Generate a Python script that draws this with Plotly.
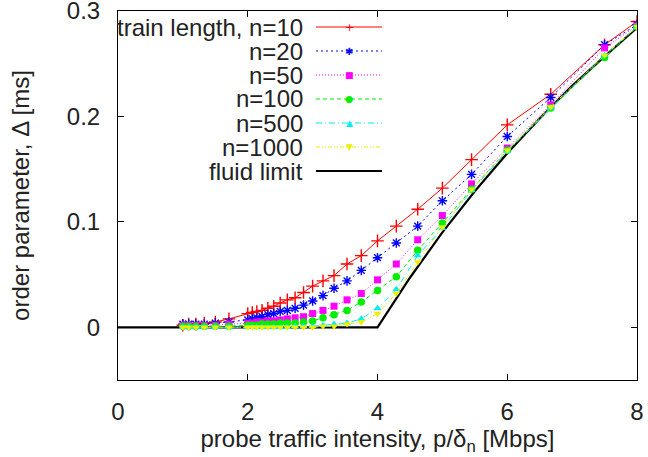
import plotly.graph_objects as go

# ---------------- data ----------------
x_vals = [1.0, 1.09, 1.2, 1.33, 1.5, 1.71, 2.0, 2.07, 2.14, 2.22, 2.31, 2.4, 2.5,
          2.61, 2.73, 2.86, 3.0, 3.16, 3.33, 3.53, 3.75, 4.0, 4.29, 4.62, 5.0,
          5.45, 6.0, 6.67, 7.5, 8.0]

n10 = [0.002, 0.003, 0.003, 0.004, 0.005, 0.008, 0.013, 0.014, 0.015, 0.016, 0.018,
       0.020, 0.023, 0.026, 0.028, 0.033, 0.039, 0.044, 0.049, 0.060, 0.068, 0.082,
       0.096, 0.112, 0.132, 0.159, 0.192, 0.221, 0.268, 0.290]
n20 = [0.003, 0.003, 0.003, 0.003, 0.004, 0.005, 0.007, 0.008, 0.009, 0.010, 0.012,
       0.013, 0.015, 0.016, 0.018, 0.021, 0.025, 0.030, 0.037, 0.044, 0.054, 0.066,
       0.080, 0.096, 0.120, 0.145, 0.181, 0.218, 0.268, 0.287]
n50 = [0.002, 0.002, 0.002, 0.002, 0.002, 0.003, 0.004, 0.004, 0.005, 0.005, 0.006,
       0.006, 0.007, 0.008, 0.009, 0.010, 0.013, 0.016, 0.020, 0.026, 0.032, 0.045,
       0.060, 0.083, 0.106, 0.136, 0.170, 0.211, 0.265, 0.286]
n100 = [0.001, 0.001, 0.001, 0.001, 0.001, 0.001, 0.002, 0.002, 0.002, 0.003, 0.003,
        0.003, 0.004, 0.004, 0.004, 0.005, 0.006, 0.009, 0.012, 0.016, 0.024, 0.035,
        0.048, 0.073, 0.099, 0.131, 0.168, 0.208, 0.256, 0.285]
n500 = [0.0, 0.0, 0.0, 0.0, 0.0, 0.0, 0.0, 0.0, 0.0, 0.0, 0.0,
        0.0, 0.0, 0.0, 0.001, 0.001, 0.001, 0.002, 0.003, 0.004, 0.008, 0.018,
        0.036, 0.068, 0.094, 0.130, 0.167, 0.208, 0.258, 0.285]
n1000 = [0.0, 0.0, 0.0, 0.0, 0.0, 0.0, 0.0, 0.0, 0.0, 0.0, 0.0,
         0.0, 0.0, 0.0, 0.0, 0.0, 0.0, 0.001, 0.001, 0.003, 0.005, 0.013,
         0.032, 0.062, 0.095, 0.131, 0.168, 0.209, 0.258, 0.285]

fluid_x = [0, 4.0, 4.5, 5.0, 5.5, 6.0, 6.5, 7.0, 7.5, 8.0]
fluid_y = [0, 0.0, 0.047, 0.090, 0.129, 0.165, 0.198, 0.229, 0.257, 0.284]

labels = ["train length, n=10", "n=20", "n=50", "n=100", "n=500", "n=1000", "fluid limit"]
x_ticks = [0, 2, 4, 6, 8]
y_ticks = [0, 0.1, 0.2, 0.3]

# ---------------- styles ----------------
FONT = "Liberation Sans, Arial, Helvetica, sans-serif"
FS = 24
TXT = "#222222"
series = [
    (n10, "#ff0000", "solid", "cross-thin-open", 9, "+"),
    (n20, "#0000ff", "2px,3px", "asterisk-open", 8, "✱"),
    (n50, "#ff00ff", "1px,2px", "square", 7, "■"),
    (n100, "#00ee00", "4px,3px", "circle", 7.5, "●"),
    (n500, "#00eeee", "6px,3px,1px,3px", "triangle-up", 7, "▲"),
    (n1000, "#eeee00", "4px,2px,1px,2px,1px,2px", "triangle-down", 7, "▼"),
]

fig = go.Figure()

fig.add_trace(go.Scatter(x=fluid_x, y=fluid_y, mode="lines",
                         line=dict(color="black", width=2.2), name=labels[6],
                         showlegend=False))

for (vals, col, dash, sym, size, _), name in zip(series, labels):
    mk = dict(symbol=sym, size=size, color=col)
    if sym.endswith("-open"):
        mk["line"] = dict(color=col, width=1.4)
    fig.add_trace(go.Scatter(x=x_vals, y=vals, mode="lines+markers", name=name,
                             line=dict(color=col, width=1, dash=dash),
                             marker=mk, showlegend=False))

# ---------------- custom legend (gnuplot style: text right, key sample right) ----------------
L, R, T, B = 118, 637, 11, 380
W, H = R - L, B - T


def px(xp):
    return (xp - L) / W


def py(yp):
    return (B - yp) / H


row_y = [27, 51, 75, 99, 123, 147, 171]
text_right = 305
s0, s1 = 316, 382
for i, lab in enumerate(labels):
    yy = py(row_y[i])
    fig.add_annotation(x=px(text_right), y=yy, xref="paper", yref="paper", text=lab,
                       showarrow=False, xanchor="right", yanchor="middle",
                       font=dict(family=FONT, size=FS, color=TXT))
    if i < 6:
        vals, col, dash, sym, size, glyph = series[i]
        fig.add_shape(type="line", xref="paper", yref="paper", x0=px(s0), x1=px(s1),
                      y0=yy, y1=yy, line=dict(color=col, width=1, dash=dash))
        fig.add_annotation(x=px((s0 + s1) / 2), y=yy, xref="paper", yref="paper",
                           text=glyph, showarrow=False, xanchor="center", yanchor="middle",
                           font=dict(family="DejaVu Sans", size=size + 2, color=col))
    else:
        fig.add_shape(type="line", xref="paper", yref="paper", x0=px(s0), x1=px(s1),
                      y0=yy, y1=yy, line=dict(color="black", width=2.2))

axis_common = dict(showline=True, linecolor="black", linewidth=1, mirror="allticks",
                   ticks="inside", ticklen=6, tickcolor="black", showgrid=False,
                   zeroline=False, automargin=False, ticklabeloverflow="allow",
                   tickfont=dict(family=FONT, size=FS, color=TXT))

fig.update_xaxes(range=[0, 8.00001], tickvals=x_ticks, ticktext=[str(v) for v in x_ticks],
                 ticklabelstandoff=10,
                 title=dict(text="probe traffic intensity, p/δ<sub>n</sub> [Mbps]",
                            font=dict(family=FONT, size=FS, color=TXT), standoff=4),
                 **axis_common)
fig.update_yaxes(range=[-0.05, 0.30001], tickvals=y_ticks,
                 ticktext=["0", "0.1", "0.2", "0.3"], ticklabelstandoff=12,
                 title=dict(text="order parameter, Δ [ms]",
                            font=dict(family=FONT, size=FS, color=TXT), standoff=30),
                 **axis_common)

fig.update_layout(width=648, height=457, plot_bgcolor="white", paper_bgcolor="white",
                  margin=dict(l=L, r=648 - R, t=T, b=457 - B, autoexpand=False),
                  showlegend=False)

fig.write_html("out.html", config={"displayModeBar": False},
               post_script="document.body.style.margin='0';document.body.style.overflow='hidden';")
